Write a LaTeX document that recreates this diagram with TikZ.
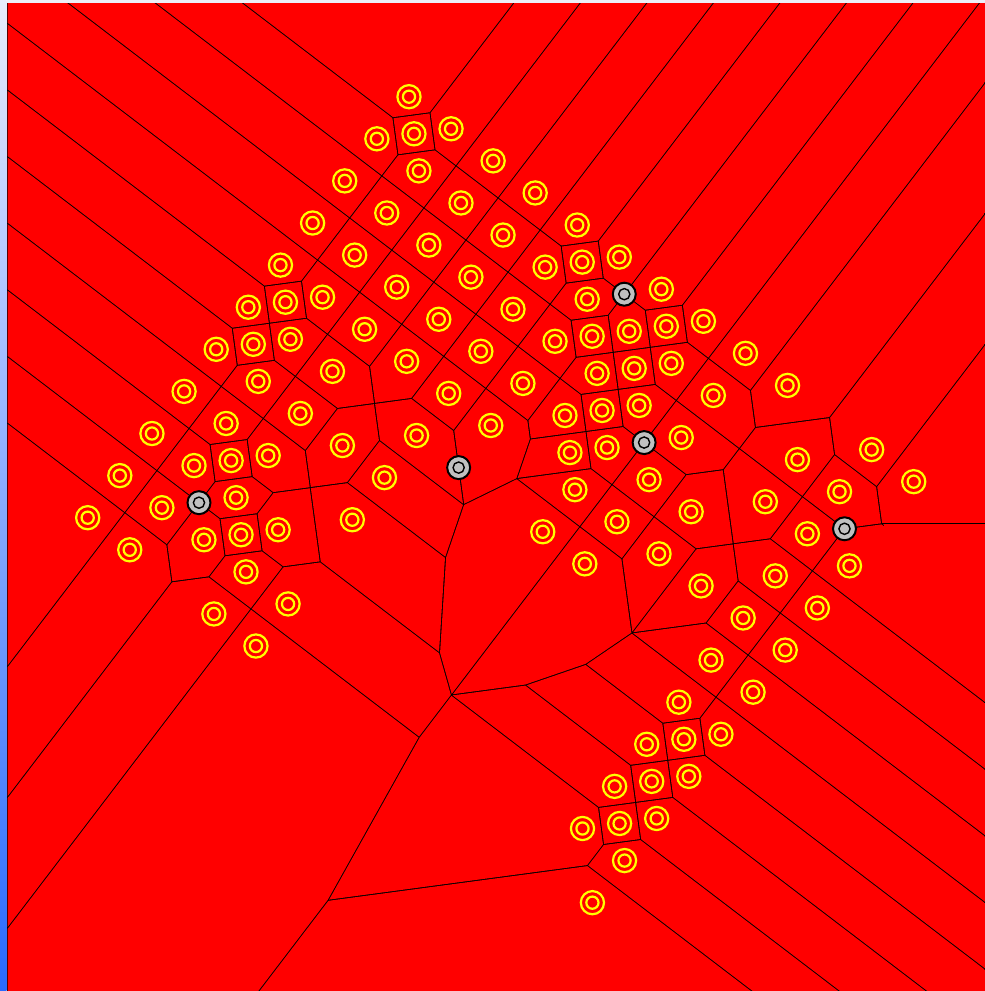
\documentclass[tikz,border=0pt]{standalone}
\definecolor{cellred}{RGB}{255,0,0}
\definecolor{siteyellow}{RGB}{255,255,0}
\definecolor{sitegrey}{RGB}{192,192,192}
\definecolor{striptop}{RGB}{232,236,252}
\definecolor{stripbot}{RGB}{40,105,255}
\definecolor{topband}{RGB}{236,238,248}
\newcount\vorcount
% lattice indices (i,j): point = O + i*u + j*v
\newcommand\vorsites{0/0,0/1,0/2,0/3,0/4,0/5,0/6,0/7,0/8,0/9,0/11,0/12,1/0,1/1,1/2,1/3,1/4,1/5,1/6,1/7,1/8,1/10,1/11,2/0,2/1,2/2,2/3,2/4,2/5,2/6,2/7,2/8,2/10,2/11,2/12,3/0,3/1,3/2,3/3,3/4,3/5,3/6,3/7,3/8,3/9,3/11,3/12,4/0,4/1,4/2,4/3,4/4,4/5,4/7,4/8,4/9,4/10,4/11,4/12,5/0,5/1,5/2,5/4,5/7,5/8,5/11,5/12,6/0,6/1,6/2,6/3,6/4,6/11,6/12,7/0,7/1,7/2,7/4,7/11,7/12,8/0,8/1,8/2,8/3,8/11,8/12,9/0,9/1,9/2,9/3,9/4,9/11,9/12,10/0,10/1,10/3,10/4,10/12,0.5/0.5,0.5/4.5,4.5/0.5,1.5/5.5,0.5/6.5,5.5/0.5,1.5/6.5,2.5/6.5,3.5/6.5,7.5/1.5,8.5/2.5,6.5/11.5,7.5/11.5,8.5/11.5}
\newcommand\vorgreysites{0.5/5.5,2.5/7.5,5/5,8.5/1.5,1.5/11.5}
% clip to the half plane of points nearer (#1,#2) than (#3,#4), shrunk by half a line width
\newcommand\vorhalfplane[4]{%
  \pgfmathparse{atan2(#4-(#2),#3-(#1))}%
  \let\vorang\pgfmathresult
  \pgftransformshift{\pgfqpoint{\dimexpr(#1pt+#3pt)/2\relax}{\dimexpr(#2pt+#4pt)/2\relax}}%
  \pgftransformrotate{\vorang}%
  \pgfpathmoveto{\pgfqpoint{-3000pt}{-3000pt}}%
  \pgfpathlineto{\pgfqpoint{-0.55pt}{-3000pt}}%
  \pgfpathlineto{\pgfqpoint{-0.55pt}{3000pt}}%
  \pgfpathlineto{\pgfqpoint{-3000pt}{3000pt}}%
  \pgfpathclose
  \pgfusepath{clip}%
}
\tikzset{
  yring/.style={siteyellow, line width=2.2pt},
  gring/.style={draw=black, fill=sitegrey, line width=2pt},
  gcore/.style={draw=black, fill=sitegrey, line width=1.4pt},
  edgeline/.style={black, line width=1.1pt}
}
\begin{document}
\begin{tikzpicture}[x=1pt,y=1pt]
\useasboundingbox (0,0) rectangle (985,-991);
% window frame
\shade[top color=striptop, bottom color=stripbot] (0,0) rectangle (6.5,-991);
\fill[topband] (6.5,0) rectangle (985,-2.5);
\fill[black] (6.5,-2.5) rectangle (985,-991);
% site coordinates
\global\vorcount=0
\foreach \vi/\vj in \vorsites {
  \global\advance\vorcount by 1
  \pgfmathsetmacro\vx{409+\vi*(-32.13)+\vj*42.06}
  \pgfmathsetmacro\vy{-(96.7+\vi*42.1+\vj*32.08)}
  \expandafter\xdef\csname vorx\the\vorcount\endcsname{\vx}
  \expandafter\xdef\csname vory\the\vorcount\endcsname{\vy}
}
\xdef\vorN{\the\vorcount}
% Voronoi cells: red fills separated by black gaps
\begin{scope}
  \clip (7.7,-3.7) rectangle (985,-991);
  \foreach \k in {1,...,\vorN} {
    \begin{scope}
      \edef\vxk{\csname vorx\k\endcsname}\edef\vyk{\csname vory\k\endcsname}
      \foreach \m in {1,...,\vorN} {
        \ifnum\m=\k\relax\else
          \edef\vxm{\csname vorx\m\endcsname}\edef\vym{\csname vory\m\endcsname}%
          \vorhalfplane{\vxk}{\vyk}{\vxm}{\vym}%
        \fi
      }
      \fill[cellred] (0,0) rectangle (985,-991);
    \end{scope}
  }
  % the reference shows a horizontal edge at the right instead of the slanted one
  \fill[cellred] (884,-525.2) -- (986,-525.2) -- (986,-605.8) -- (884,-527.7) -- cycle;
  \coordinate (hv) at (881.6,-523.8);
  \coordinate (hr) at (986,-523.8);
  \draw[edgeline] (hv) -- (hr);
\end{scope}
% yellow sites
\foreach \k in {1,...,\vorN} {
  \edef\vxk{\csname vorx\k\endcsname}\edef\vyk{\csname vory\k\endcsname}
  \coordinate (site\k) at (\vxk,\vyk);
  \draw[yring] (site\k) circle[radius=11.6pt];
  \draw[yring] (site\k) circle[radius=6.1pt];
}
% grey sites
\foreach \vi/\vj [count=\g] in \vorgreysites {
  \pgfmathsetmacro\vx{409+\vi*(-32.13)+\vj*42.06}
  \pgfmathsetmacro\vy{-(96.7+\vi*42.1+\vj*32.08)}
  \coordinate (grey\g) at (\vx,\vy);
  \draw[gring] (grey\g) circle[radius=11.5pt];
  \draw[gcore] (grey\g) circle[radius=5.6pt];
}
\end{tikzpicture}
\end{document}
